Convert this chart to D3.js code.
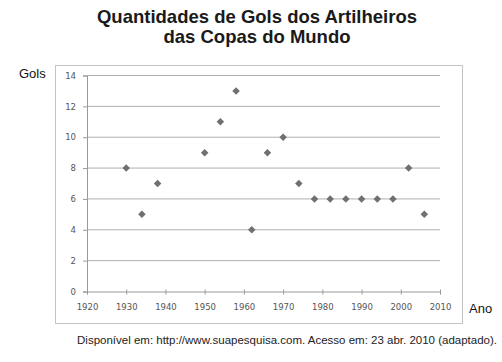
<!DOCTYPE html>
<html><head><meta charset="utf-8">
<script src="https://cdn.jsdelivr.net/npm/d3@7"></script>
<style>body{margin:0;background:#fff}svg{display:block}</style>
</head><body>
<script>
const years = [1930,1934,1938,1950,1954,1958,1962,1966,1970,1974,1978,1982,1986,1990,1994,1998,2002,2006];
const goals = [8,5,7,9,11,13,4,9,10,7,6,6,6,6,6,6,8,5];
const xTicks = [1920,1930,1940,1950,1960,1970,1980,1990,2000,2010];
const yTicks = [0,2,4,6,8,10,12,14];
const titleLines = ["Quantidades de Gols dos Artilheiros","das Copas do Mundo"];
const source = "Disponível em: http://www.suapesquisa.com. Acesso em: 23 abr. 2010 (adaptado).";

const W=502,H=362;
const svg=d3.select("body").append("svg").attr("width",W).attr("height",H);
const x=d3.scaleLinear().domain([1920,2010]).range([87,440]);
const y=d3.scaleLinear().domain([0,14]).range([291.5,75.5]);

svg.selectAll("text.title").data(titleLines).join("text")
  .attr("x",257).attr("y",(d,i)=>23+i*20).attr("text-anchor","middle")
  .attr("font-family","Liberation Sans, Arial, sans-serif").attr("font-weight","bold")
  .attr("font-size",18.5).attr("fill","#1a1a1a").text(d=>d);

svg.append("rect").attr("x",55.5).attr("y",65.5).attr("width",407).attr("height",258)
  .attr("fill","#fff").attr("stroke","#c4c4c4").attr("stroke-width",1);

svg.append("g").selectAll("line").data(yTicks.filter(d=>d>0)).join("line")
  .attr("x1",87).attr("x2",440).attr("y1",d=>y(d)).attr("y2",d=>y(d))
  .attr("stroke","#b0b0b0").attr("stroke-width",1);

const gy=svg.append("g").attr("transform","translate(87,0)")
  .call(d3.axisLeft(y).tickValues(yTicks).tickSize(4).tickPadding(7));
const gx=svg.append("g").attr("transform","translate(0,291.5)")
  .call(d3.axisBottom(x).tickValues(xTicks).tickFormat(d3.format("d")).tickSize(3).tickPadding(9));
[gy,gx].forEach(g=>{
  g.selectAll("path,line").attr("stroke","#9a9a9a");
  g.selectAll("text").attr("font-family","DejaVu Sans, Verdana, sans-serif").attr("font-size",8.5).attr("fill","#555");
});
gx.selectAll(".tick line").attr("y1",-2);

svg.append("g").selectAll("path").data(years.map((d,i)=>[d,goals[i]])).join("path")
  .attr("transform",d=>`translate(${x(d[0])},${y(d[1])})`)
  .attr("d",d3.symbol(d3.symbolDiamond2,36)).attr("fill","#707070");

svg.append("text").attr("x",19).attr("y",78).attr("font-family","Liberation Sans, Arial, sans-serif")
  .attr("font-size",13).attr("fill","#111").text("Gols");
svg.append("text").attr("x",469).attr("y",313).attr("font-family","Liberation Sans, Arial, sans-serif")
  .attr("font-size",13).attr("fill","#111").text("Ano");
svg.append("text").attr("x",497).attr("y",344).attr("text-anchor","end")
  .attr("font-family","Liberation Sans, Arial, sans-serif").attr("font-size",11.5).attr("fill","#222").text(source);
</script>
</body></html>
